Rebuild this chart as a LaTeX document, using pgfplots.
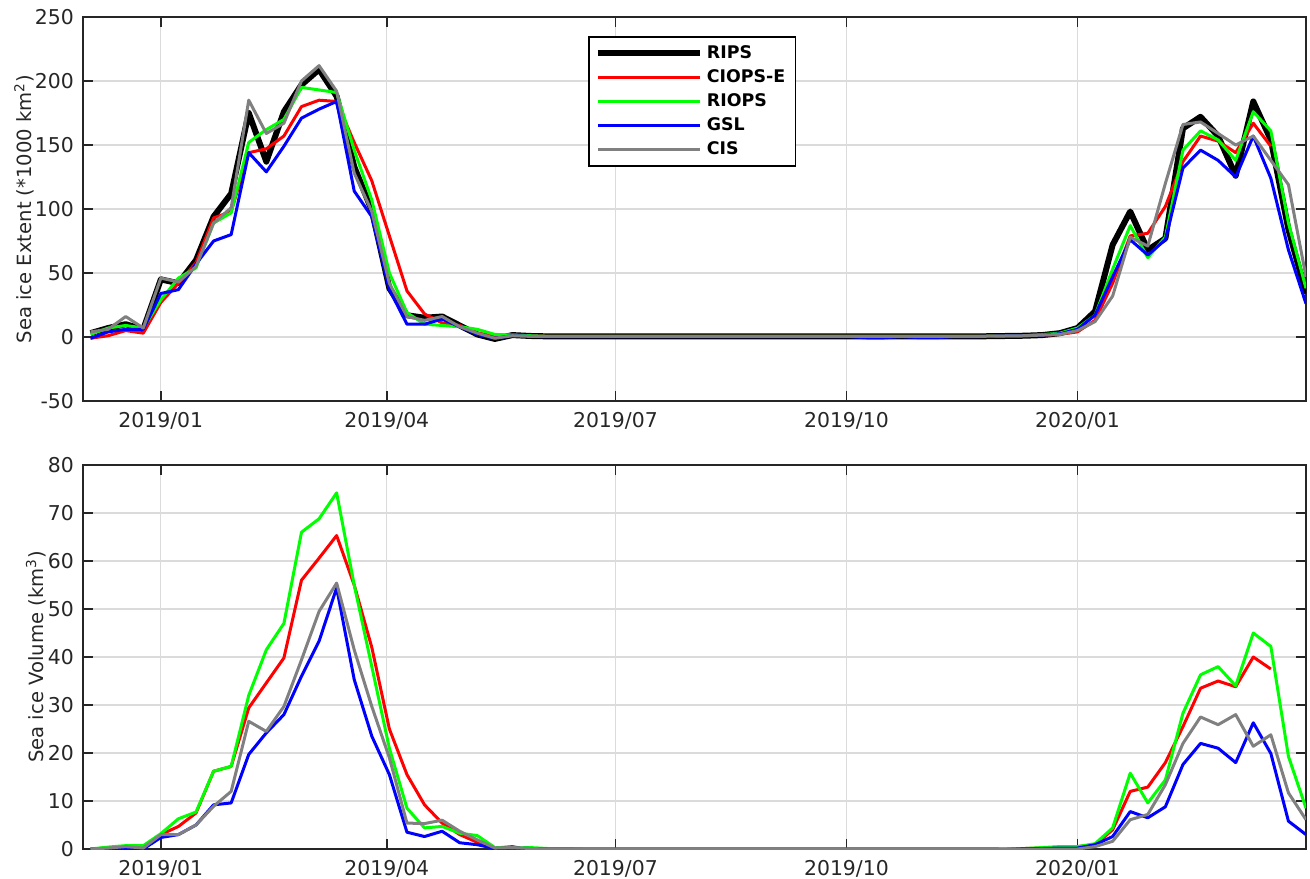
\documentclass[border=0pt]{standalone}
\usepackage{fontspec}
\setmainfont{DejaVu Sans}
\usepackage{pgfplots}
\usepackage{pgfplotstable}
\pgfplotsset{compat=1.18}

\pgfplotstableread{
day rips ciops riops gsl cis
-28 3 -1 2 -1 4
-21 7 1 7 4 6
-14 10 5 9 6 16
-7 6 3 7 6 7
0 45 27 29 34 46
7 42 42 46 37 43
14 60 58 54 57 55
21 94 93 89 75 89
28 112 98 97 80 101
35 175 144 152 144 185
42 137 147 162 129 159
49 176 157 170 149 167
56 197 180 195 171 200
63 209 185 193 178 212
70 188 184 191 184 192
77 133 152 146 114 128
84 99 122 107 94 98
91 38 79 50 37 42
98 17 36 19 10 16
105 15 18 10 10 13
112 16 11 9 14 16
119 9 9 8 8 8
126 2 3 6 2 3
133 -1.5 1 2 -1 -1
140 1.5 1.5 1.5 1 1
147 0.8 1 1 0.5 0.5
154 0.5 0.5 0.5 0.3 0.5
161 0.5 0.5 0.5 0.3 0.5
168 0.5 0.5 0.5 0.3 0.5
175 0.5 0.5 0.5 0.3 0.5
182 0.5 0.5 0.5 0.3 0.5
189 0.5 0.5 0.5 0.3 0.5
196 0.5 0.5 0.5 0.3 0.5
203 0.5 0.5 0.5 0.3 0.5
210 0.5 0.5 0.5 0.3 0.5
217 0.5 0.5 0.5 0.3 0.5
224 0.5 0.5 0.5 0.3 0.5
231 0.5 0.5 0.5 0.3 0.5
238 0.5 0.5 0.5 0.3 0.5
245 0.5 0.5 0.5 0.3 0.5
252 0.5 0.5 0.5 0.3 0.5
260 0.5 0.5 0.5 0.3 0.5
267 0.5 0.5 0.5 0.3 0.5
274 0.5 0.5 0.5 0.3 0.5
281 0.5 0.5 0.5 -0.6 0.5
288 0.5 0.5 0.5 -0.6 0.5
295 0.5 0.5 0.5 0.3 0.5
302 0.5 0.5 0.5 -0.5 0.5
309 0.5 0.5 0.5 -0.5 0.5
316 0.5 0.5 0.5 0.3 0.5
323 0.5 0.5 0.5 0.3 0.5
330 0.6 0.6 0.6 0.5 0.6
337 0.8 0.8 0.8 0.8 0.8
344 1 1 1 1 1
351 1.5 1.5 1.8 1.5 1.5
358 3 2 3 2.5 2
365 7 4 7 6 5
372 20 13 17 17 12
379 72 42 53 47 32
386 98 79 87 76 78
393 68 81 62 64 71
400 77 102 78 76 120
407 163 137 146 132 166
414 172 157 161 146 168
421 157 153 154 138 159
428 126 144 138 125 150
435 184 167 176 157 157
442 154 149 161 124 138
449 84 nan 89 68 119
456 34 nan 38 26 47
}\extent

\pgfplotstableread{
day ciops riops gsl cis
-28 0 0 0 0
-21 0.2 0.4 0 0.2
-14 0.4 0.7 0.2 0.5
-7 0 0.7 0 0.2
0 3 3.2 2.4 3
7 4.7 6.3 3 3
14 7.5 7.7 5 5
21 16.2 16.2 9.2 8.9
28 17.2 17.2 9.6 12
35 29.4 32 19.7 26.6
42 34.6 41.5 24.2 24.5
49 39.8 47 28 29.7
56 56 66 36 39.4
63 60.6 68.8 43.3 49.5
70 65.3 74.2 54.4 55.4
77 55 55 35.3 41.5
84 42 38 23.5 29.7
91 25 21 15.5 19
98 15.5 8.5 3.5 5.4
105 9.2 4.4 2.6 5.3
112 5.4 4.7 3.7 6
119 3 3.3 1.3 3.7
126 1.4 2.8 0.9 1.9
133 0.2 0.3 0.1 0.2
140 0.5 0.2 0.2 0.3
147 -0.2 0.3 0.1 0.1
154 -0.4 0.1 0 0
161 0 0.1 0 0
168 0 0 0 0
175 0 0 0 0
182 0 0 0 0
189 0 0 0 0
196 0 0 0 0
203 0 0 0 0
210 0 0 0 0
217 0 0 0 0
224 0 0 0 0
231 0 0 0 0
238 0 0 0 0
245 0 0 0 0
252 0 0 0 0
260 0 0 0 0
267 0 0 0 0
274 0 0 0 0
281 0 0 0 0
288 0 0 0 0
295 0 0 0 0
302 0 0 0 0
309 0 0 0 0
316 0 0 0 0
323 0 0 0 0
330 0 0 0 0
337 0 0 -0.1 0
344 0.1 0.1 0.1 0
351 0.2 0.3 0.1 0
358 0.4 0.5 0.2 0
365 0.5 0.5 0.2 0
372 0.9 1.1 0.9 0.5
379 4 4.4 2.6 1.6
386 12 15.8 7.8 6.1
393 12.9 9.6 6.5 7.2
400 18 14.4 8.8 13.4
407 25.5 28.3 17.6 22
414 33.5 36.3 22 27.5
421 35 38 21 25.9
428 33.8 34 18 28
435 40 45 26.3 21.4
442 37.5 42.2 19.9 23.8
449 nan 19.3 5.8 11.7
456 nan 8.5 3 6.1
}\volume

\definecolor{gridc}{gray}{0.86}
\definecolor{axc}{gray}{0.15}
\definecolor{cisgray}{gray}{0.5}

\pgfplotsset{
  myaxis/.style={
    scale only axis,
    width=611.5pt, height=192pt,
    xmin=-31, xmax=456,
    xtick={0,90,181,273,365},
    xticklabels={2019/01,2019/04,2019/07,2019/10,2020/01},
    tick align=inside,
    major tick length=5pt,
    xmajorgrids, ymajorgrids,
    grid style={gridc, line width=0.6pt},
    axis line style={axc, line width=0.8pt},
    every tick/.style={axc, line width=0.8pt},
    tick label style={font=\fontsize{10.2}{12}\selectfont, text=axc},
    label style={font=\fontsize{9.8}{11}\selectfont, text=axc},
    /pgf/number format/assume math mode=true,
    xticklabel style={yshift=-2pt},
    yticklabel style={xshift=-1pt},
    clip=true,
  },
  serline/.style={line width=1.5pt, line join=round},
}

\begin{document}
\begin{tikzpicture}
\useasboundingbox (0,0) rectangle (655pt,439pt);
\begin{axis}[myaxis,
  at={(41.5pt,238.5pt)}, anchor=south west,
  ymin=-50, ymax=250, ytick={-50,0,...,250},
  ylabel={Sea ice Extent (*1000 km\textsuperscript{2})},
  ylabel style={at={(axis description cs:-0.048,0.5)}, anchor=center},
  legend style={at={(axis description cs:0.413,0.9505)}, anchor=north west,
    draw=black, line width=0.8pt, fill=white,
    font=\bfseries\fontsize{8.7}{9}\selectfont,
    row sep=0pt, inner xsep=3pt, inner ysep=2.3pt,
    nodes={inner ysep=1.6pt, text height=7pt, text depth=1.8pt},
    /tikz/every even column/.append style={column sep=3pt}},
  legend cell align=left,
  legend image code/.code={\draw[#1] (0pt,0pt) -- (51pt,0pt);},
]
\addplot[black, line width=3pt, line join=round] table[x=day,y=rips] {\extent};
\addlegendentry{RIPS}
\addplot[red, serline] table[x=day,y=ciops] {\extent};
\addlegendentry{CIOPS-E}
\addplot[green, serline] table[x=day,y=riops] {\extent};
\addlegendentry{RIOPS}
\addplot[blue, serline] table[x=day,y=gsl] {\extent};
\addlegendentry{GSL}
\addplot[cisgray, serline] table[x=day,y=cis] {\extent};
\addlegendentry{CIS}
\end{axis}

\begin{axis}[myaxis,
  at={(41.5pt,14.5pt)}, anchor=south west,
  ymin=0, ymax=80, ytick={0,10,...,80},
  ylabel={Sea ice Volume (km\textsuperscript{3})},
  ylabel style={at={(axis description cs:-0.0384,0.5)}, anchor=center},
]
\addplot[red, serline] table[x=day,y=ciops] {\volume};
\addplot[green, serline] table[x=day,y=riops] {\volume};
\addplot[blue, serline] table[x=day,y=gsl] {\volume};
\addplot[cisgray, serline] table[x=day,y=cis] {\volume};
\end{axis}
\end{tikzpicture}
\end{document}
